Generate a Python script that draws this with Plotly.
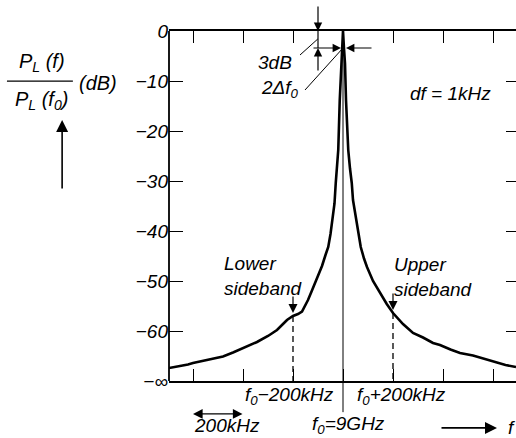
import plotly.graph_objects as go

# ---- data (offset from f0 in kHz, relative level in dB) ----
freq_khz = [-696, -660, -620, -600, -560, -520, -480, -440, -400, -370, -344, -300,
            -264, -240, -224, -200, -180, -164, -150, -140, -125, -112, -96, -84,
            -70, -59, -50, -41, -34, -29, -24, -19, -13, -8, -4, 0,
            4, 8, 12, 21, 28, 35, 40, 52, 61, 71, 84, 96, 120, 148, 175, 200,
            240, 280, 320, 360, 388, 430, 468, 520, 560, 608, 650, 692]
level_db = [-67.4, -67.1, -66.7, -66.4, -66.0, -65.6, -65.1, -64.3, -63.4, -62.8, -62.2, -61.0,
            -59.8, -58.6, -57.8, -57.0, -56.6, -56.1, -54.8, -53.8, -52.0, -50.4, -48.5, -47.0,
            -44.8, -43.2, -40.6, -37.2, -34.5, -30.4, -27.0, -23.8, -13.8, -7.0, -3.5, 0.0,
            -3.5, -6.5, -13.8, -23.8, -27.5, -30.4, -33.8, -37.2, -40.0, -43.2, -45.5, -47.2,
            -50.0, -52.4, -54.6, -56.4, -58.6, -60.4, -61.3, -62.4, -62.8, -63.7, -64.4, -64.9,
            -65.5, -66.2, -66.8, -67.2]

y_tickvals = [0, -10, -20, -30, -40, -50, -60, -70]
y_ticktext = ["0", "−10", "−20", "−30", "−40", "−50", "−60", "−∞"]
x_tickvals = [-600, -400, -200, 0, 200, 400, 600]
sideband_khz = [-200, 200]

FONT = "Liberation Sans"
F = dict(family=FONT, size=19, color="black", style="italic")
FL = dict(family=FONT, size=20, color="black", style="italic")

fig = go.Figure()
fig.add_trace(go.Scatter(x=freq_khz, y=level_db, mode="lines",
                         line=dict(color="black", width=2.6), hoverinfo="skip"))
fig.add_trace(go.Scatter(x=[0], y=[-70], yaxis="y2", mode="markers",
                         marker=dict(opacity=0), hoverinfo="skip"))

ann = []
def text(x, y, t, xa="center", ya="middle", xref="x", yref="y", align="center", font=F):
    ann.append(dict(x=x, y=y, text=t, showarrow=False, xanchor=xa, yanchor=ya,
                    xref=xref, yref=yref, font=font, align=align))
def arrow(x, y, ax, ay, xref="x", yref="y", side="end", size=1.4, w=1.2):
    ann.append(dict(x=x, y=y, ax=ax, ay=ay, text="", showarrow=True, arrowhead=2,
                    arrowsize=size, arrowwidth=w, arrowcolor="black", standoff=0,
                    startstandoff=0, arrowside=side, xref=xref, yref=yref,
                    startarrowhead=2, startarrowsize=size))

shapes = []
def line(x0, y0, x1, y1, xref="x", yref="y", w=1.2, dash="solid"):
    shapes.append(dict(type="line", x0=x0, y0=y0, x1=x1, y1=y1, xref=xref, yref=yref,
                       line=dict(color="black", width=w, dash=dash)))

# center line f0
line(0, -0.089, 0, 1, xref="x", yref="paper", w=1)

# 3 dB markers
arrow(-100, 0, 0, -26)
line(-100, 0, -100, -3.4)
arrow(-100, -3.4, 0, 24)
arrow(-8, -3.4, -29, 0)
arrow(12, -3.4, 27, 0)
line(-172, -4.8, -101, -1.6, w=1)
line(-152, -11.8, 0, -3.4, w=1)
text(-198, -6.2, "3dB", xa="right")
text(-170, -11.6, "2Δf<sub>0</sub>", xa="right")
text(258, -12.4, "df = 1kHz", xa="left")

# sidebands
text(-486, -49.0, "Lower<br>sideband", xa="left", align="left")
text(194, -49.2, "Upper<br>sideband", xa="left", align="left")
for fk in sideband_khz:
    lv = level_db[freq_khz.index(fk)]
    arrow(fk, lv + 0.6, 0, -18, size=1.5)
    line(fk, lv, fk, -70, w=1.3, dash="6px,4px")

# bottom labels (paper y below the plot)
text(-216, -0.044, "f<sub>0</sub>−200kHz", yref="paper")
text(232, -0.044, "f<sub>0</sub>+200kHz", yref="paper")
text(20, -0.125, "f<sub>0</sub>=9GHz", yref="paper")
text(-464, -0.128, "200kHz", yref="paper")
arrow(-600, -0.094, 51, 0, yref="paper", side="end+start", size=1.6)
arrow(616, -0.134, -57, 0, yref="paper", size=1.5, w=1.6)
text(650, -0.134, "f", xa="left", yref="paper")

# y label
text(-0.366, 0.909, "P<sub>L</sub> (f)", xref="paper", yref="paper", font=FL)
line(-0.467, 0.857, -0.277, 0.857, xref="paper", yref="paper", w=1.2)
text(-0.366, 0.800, "P<sub>L</sub> (f<sub>0</sub>)", xref="paper", yref="paper", font=FL)
text(-0.205, 0.851, "(dB)", xref="paper", yref="paper", font=FL)
arrow(-0.308, 0.746, 0, 70, xref="paper", yref="paper", size=1.5, w=1.6)
# left axis line
line(0, 0, 0, 1, xref="paper", yref="paper", w=1.8)

fig.update_layout(
    width=516, height=438,
    margin=dict(l=169, r=0, t=31, b=57),
    paper_bgcolor="white", plot_bgcolor="white",
    showlegend=False,
    annotations=ann, shapes=shapes,
    xaxis=dict(range=[-696, 692], showgrid=False, zeroline=False,
               showline=True, linecolor="black", linewidth=1.8, mirror="ticks",
               ticks="inside", ticklen=12, tickwidth=1.3, tickcolor="black",
               tickvals=x_tickvals, showticklabels=False),
    yaxis=dict(range=[-70, 0], showgrid=False, zeroline=False,
               showline=False, ticks="inside", ticklen=14, tickwidth=1.3, tickcolor="black",
               tickvals=y_tickvals, ticktext=y_ticktext, tickfont=F),
    yaxis2=dict(range=[-70, 0], overlaying="y", side="right", showgrid=False,
                zeroline=False, showline=False, ticks="inside", ticklen=10,
                tickwidth=1.3, tickcolor="black", tickvals=y_tickvals[1:-1],
                showticklabels=False),
)

fig.write_html("out.html")
